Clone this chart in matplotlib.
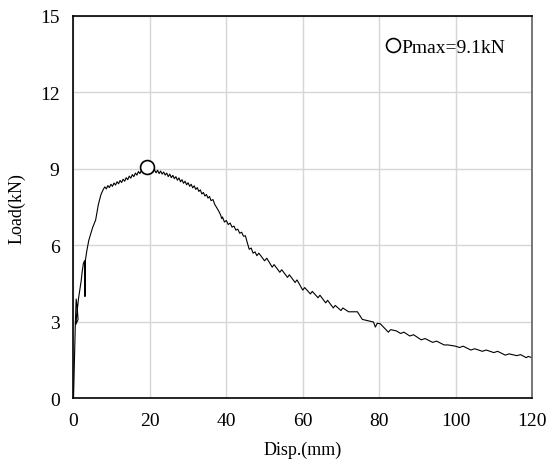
import matplotlib
matplotlib.use("Agg")
import matplotlib.pyplot as plt

# load-displacement record
disp = [0.0, 0.5, 0.7, 1.0, 1.2, 0.6, 1.3, 1.6, 2.0, 2.3, 2.6, 2.9, 3.0, 3.1, 3.5,
        4.0, 5.0, 5.8, 6.5, 7.2, 7.8,
        8.2, 8.6, 9.0, 9.4, 9.8, 10.2, 10.6, 11.0, 11.4, 11.8, 12.2, 12.6, 13.0,
        13.4, 13.8, 14.2, 14.6, 15.0, 15.4, 15.8, 16.2, 16.6, 17.0, 17.4, 17.8,
        18.2, 18.6, 19.2,
        19.5, 20.0, 20.4, 20.8, 21.2, 21.6, 22.0, 22.4, 22.8, 23.2, 23.6, 24.0,
        24.4, 24.8, 25.2, 25.6, 26.0, 26.4, 26.8, 27.2, 27.6, 28.0, 28.4, 28.8,
        29.2, 29.6, 30.0, 30.4, 30.8, 31.2, 31.6, 32.0, 32.4, 32.8, 33.2, 33.6,
        34.0, 34.4, 34.8, 35.2, 35.6, 36.0, 36.5, 37.0, 37.5, 38.0, 38.5, 38.8,
        39.0, 39.5, 40.0, 40.5, 41.0, 41.5, 42.0, 42.5, 43.0, 43.5, 44.0, 44.5,
        45.0, 45.5, 46.0, 46.5, 47.0, 47.5, 48.0,
        48.5, 50.0, 50.6, 52.0, 52.5, 54.0, 54.5, 56.0, 56.5, 58.0, 58.5, 60.0,
        60.5, 62.0, 62.5, 64.0, 64.5, 66.0, 66.5, 68.0, 68.5, 70.0, 70.5, 72.0,
        74.3, 75.6, 77.0, 78.5, 79.0, 79.5, 80.3, 82.4, 83.0, 84.5, 85.6, 86.5,
        88.0, 89.0, 91.0, 92.0, 94.0, 95.0, 97.0, 98.0, 100.0, 101.0, 102.0,
        104.0, 105.0, 107.0, 108.0, 110.0, 111.0, 113.0, 114.0, 116.0, 117.0,
        118.5, 119.0, 120.0]
load = [0.0, 3.0, 3.9, 3.5, 3.1, 2.9, 3.9, 4.2, 4.6, 5.0, 5.3, 5.4, 4.0, 5.4, 5.8,
        6.2, 6.7, 7.0, 7.6, 8.0, 8.2,
        8.3, 8.22, 8.35, 8.27, 8.4, 8.32, 8.45, 8.37, 8.5, 8.42, 8.55, 8.47, 8.6,
        8.52, 8.66, 8.58, 8.72, 8.64, 8.78, 8.7, 8.84, 8.76, 8.9, 8.82, 8.96,
        8.9, 9.02, 9.06,
        9.0, 8.92, 9.0, 8.88, 8.97, 8.85, 8.95, 8.82, 8.92, 8.8, 8.88, 8.76,
        8.84, 8.7, 8.8, 8.66, 8.75, 8.62, 8.7, 8.56, 8.65, 8.5, 8.58, 8.44,
        8.52, 8.38, 8.46, 8.32, 8.4, 8.26, 8.34, 8.2, 8.27, 8.12, 8.18, 8.02,
        8.08, 7.94, 8.0, 7.86, 7.92, 7.76, 7.8, 7.6, 7.48, 7.35, 7.2, 7.05,
        7.12, 6.92, 6.98, 6.82, 6.88, 6.72, 6.76, 6.6, 6.64, 6.48, 6.52, 6.36,
        6.38, 6.1, 5.85, 5.9, 5.7, 5.75, 5.6,
        5.7, 5.4, 5.5, 5.15, 5.25, 4.95, 5.05, 4.75, 4.85, 4.55, 4.65, 4.25,
        4.35, 4.1, 4.2, 3.95, 4.05, 3.75, 3.85, 3.55, 3.65, 3.45, 3.55, 3.4,
        3.4, 3.1, 3.05, 3.0, 2.8, 2.95, 2.93, 2.6, 2.7, 2.65, 2.55, 2.6,
        2.45, 2.5, 2.3, 2.35, 2.2, 2.25, 2.1, 2.1, 2.05, 2.0, 2.05,
        1.9, 1.95, 1.85, 1.9, 1.8, 1.85, 1.7, 1.75, 1.68, 1.72,
        1.6, 1.65, 1.6]

p_max_disp = 19.2
p_max_load = 9.06
p_max_label = "Pmax=9.1kN"

x_ticks = [0, 20, 40, 60, 80, 100, 120]
y_ticks = [0, 3, 6, 9, 12, 15]

plt.rcParams['font.family'] = ['Liberation Serif', 'DejaVu Serif']
plt.rcParams['font.size'] = 14

fig = plt.figure(figsize=(5.55, 4.77), dpi=100)
ax = fig.add_axes([0.1324, 0.1625, 0.8262, 0.8019])

ax.plot(disp, load, color='black', linewidth=0.8)
ax.plot([p_max_disp], [p_max_load], linestyle='none', marker='o',
        markersize=10, markerfacecolor='white', markeredgecolor='black',
        markeredgewidth=1.2, label=p_max_label)

ax.set_xlim(0, 120)
ax.set_ylim(0, 15)
ax.set_xticks(x_ticks)
ax.set_yticks(y_ticks)
ax.tick_params(length=0, pad=10, labelsize=14)
ax.grid(True, color='#d6d6d6', linewidth=1.0)
ax.set_axisbelow(True)

for side in ['left', 'bottom', 'top']:
    ax.spines[side].set_color('black')
    ax.spines[side].set_linewidth(1.2)
ax.spines['right'].set_color('#606060')
ax.spines['right'].set_linewidth(1.2)

ax.set_xlabel("Disp.(mm)", fontsize=13, labelpad=8)
ax.set_ylabel("Load(kN)", fontsize=13, labelpad=10)

ax.legend(loc='upper right', bbox_to_anchor=(0.972, 0.977), frameon=False,
          handlelength=0.6, handletextpad=0.15, borderaxespad=0.3,
          fontsize=14)

fig.savefig("out.png", dpi=100)
